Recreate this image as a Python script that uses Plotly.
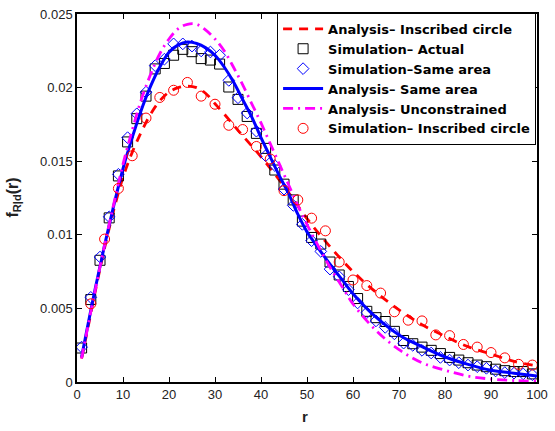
import plotly.graph_objects as go

# ---- Simulation markers ----
sim_x = [1, 3, 5, 7, 9, 11, 13, 15, 17, 19, 21, 23, 25, 27, 29, 31, 33, 35, 37, 39,
         41, 43, 45, 47, 49, 51, 53, 55, 57, 59, 61, 63, 65, 67, 69, 71, 73, 75, 77, 79,
         81, 83, 85, 87, 89, 91, 93, 95, 97, 99]
sim_actual = [0.00231, 0.0056, 0.00827, 0.01115, 0.0140, 0.01631, 0.01789, 0.01942, 0.02127, 0.02164,
              0.0222, 0.0226, 0.02244, 0.02197, 0.02187, 0.0216, 0.02004, 0.0192, 0.01804, 0.01689,
              0.01587, 0.0144, 0.01344, 0.01237, 0.01093, 0.00982, 0.00937, 0.00815, 0.00727, 0.00649,
              0.00567, 0.0048, 0.00437, 0.00411, 0.00344, 0.00282, 0.0026, 0.00237, 0.00215, 0.00193,
              0.00167, 0.00149, 0.00131, 0.00115, 0.00104, 0.00087, 0.00077, 0.00071, 0.00071, 0.00055]
sim_same_area = [0.00237, 0.00575, 0.00849, 0.01122, 0.01411, 0.0166, 0.01822, 0.01969, 0.02149, 0.02193,
                 0.02297, 0.02297, 0.02282, 0.02249, 0.02242, 0.0222, 0.02049, 0.01931, 0.01827, 0.01704,
                 0.01537, 0.01471, 0.0131, 0.0120, 0.01071, 0.0096, 0.00887, 0.00767, 0.00715, 0.00627,
                 0.00537, 0.00471, 0.00415, 0.00371, 0.00327, 0.00264, 0.00249, 0.00215, 0.00197, 0.00167,
                 0.00149, 0.00131, 0.00115, 0.00104, 0.00093, 0.00075, 0.00064, 0.0006, 0.00055, 0.00049]

circ_x = [3, 6, 9, 12, 15, 18, 21, 24, 27, 30, 33, 36, 39, 42, 45, 48, 51, 54, 57, 60,
          63, 66, 69, 72, 75, 78, 81, 84, 87, 90, 93, 96, 99]
sim_inscribed = [0.00531, 0.00971, 0.01315, 0.01537, 0.01793, 0.01933, 0.01982, 0.02035, 0.01942, 0.01887,
                 0.01744, 0.01715, 0.0160, 0.01515, 0.0130, 0.01237, 0.01113, 0.01027, 0.00815, 0.00693,
                 0.00655, 0.00604, 0.00477, 0.0042, 0.00415, 0.0032, 0.00315, 0.00255, 0.00237, 0.002,
                 0.00164, 0.0012, 0.00115]

# ---- Analysis curves ----
ana_insc_x = [1, 2, 4, 6, 8, 10, 12, 14, 16, 18, 20, 22, 24, 26, 28, 30, 32, 35, 40, 45,
              50, 55, 60, 65, 70, 75, 80, 85, 90, 95, 100]
ana_inscribed = [0.0016, 0.0031, 0.0062, 0.0091, 0.0117, 0.0139, 0.0156, 0.0170, 0.0182, 0.0191,
                 0.0197, 0.0200, 0.0201, 0.0200, 0.0196, 0.0189, 0.0182, 0.0171, 0.0153, 0.0133,
                 0.0111, 0.0092, 0.0075, 0.0061, 0.0049, 0.0039, 0.0031, 0.0024, 0.0019, 0.0014, 0.0011]

ana_same_x = [1, 2, 4, 6, 8, 10, 12, 14, 16, 18, 20, 22, 24, 26, 28, 30, 32, 34, 36, 38,
              40, 42, 44, 46, 48, 50, 52, 55, 58, 60, 65, 70, 75, 80, 85, 90, 95, 100]
ana_same = [0.0017, 0.0033, 0.0064, 0.0093, 0.0120, 0.0145, 0.0166, 0.0185, 0.0201, 0.0214,
            0.0224, 0.0229, 0.0231, 0.0230, 0.0227, 0.0222, 0.0214, 0.0204, 0.0192, 0.0180,
            0.0166, 0.0153, 0.0140, 0.0128, 0.0114, 0.0102, 0.0093, 0.0080, 0.0068, 0.0060,
            0.0044, 0.0032, 0.0024, 0.0017, 0.0012, 0.0008, 0.0006, 0.0004]

ana_unc_x = [1, 2, 4, 6, 8, 10, 12, 14, 16, 18, 20, 22, 24, 26, 28, 30, 32, 34, 36, 38,
             40, 42, 44, 46, 48, 50, 52, 55, 58, 60, 65, 70, 75, 80, 85, 90, 95, 100]
ana_unconstrained = [0.0016, 0.0032, 0.0063, 0.0093, 0.0121, 0.0148, 0.0171, 0.0192, 0.0209, 0.0223,
                     0.0233, 0.0240, 0.0243, 0.0243, 0.0239, 0.0233, 0.0225, 0.0214, 0.0202, 0.0189,
                     0.0176, 0.0162, 0.0148, 0.0134, 0.0120, 0.0107, 0.0095, 0.0078, 0.0063, 0.0053,
                     0.0035, 0.0022, 0.0013, 0.0008, 0.0004, 0.0002, 0.0001, 0.00005]

x_ticks = [0, 10, 20, 30, 40, 50, 60, 70, 80, 90, 100]
y_ticks = [0, 0.005, 0.01, 0.015, 0.02, 0.025]
y_ticktext = ["0", "0.005", "0.01", "0.015", "0.02", "0.025"]

FONT = "Liberation Sans, Arial, Helvetica, sans-serif"
LEG_FONT = "DejaVu Sans, Liberation Sans, Arial, sans-serif"

fig = go.Figure()
fig.add_trace(go.Scatter(x=ana_insc_x, y=ana_inscribed, mode="lines", line_shape="spline",
                         name="Analysis– Inscribed circle",
                         line=dict(color="#ff0000", width=2.8, dash="9px,7px")))
fig.add_trace(go.Scatter(x=sim_x, y=sim_actual, mode="markers", name="Simulation– Actual",
                         marker=dict(symbol="square-open", size=10, color="black", line=dict(width=1))))
fig.add_trace(go.Scatter(x=sim_x, y=sim_same_area, mode="markers", name="Simulation–Same area",
                         marker=dict(symbol="diamond-open", size=9, color="#0000ff", line=dict(width=1))))
fig.add_trace(go.Scatter(x=ana_same_x, y=ana_same, mode="lines", line_shape="spline",
                         name="Analysis– Same area",
                         line=dict(color="#0000ff", width=3)))
fig.add_trace(go.Scatter(x=ana_unc_x, y=ana_unconstrained, mode="lines", line_shape="spline",
                         name="Analysis– Unconstrained",
                         line=dict(color="#ff00ff", width=2.8, dash="10px,5px,2px,5px")))
fig.add_trace(go.Scatter(x=circ_x, y=sim_inscribed, mode="markers", name="Simulation– Inscribed circle",
                         marker=dict(symbol="circle-open", size=10, color="#ff0000", line=dict(width=1))))

axis_common = dict(showline=True, linecolor="black", linewidth=1.5, mirror="ticks",
                   ticks="inside", ticklen=5, tickcolor="black", tickwidth=1,
                   showgrid=False, zeroline=False,
                   tickfont=dict(family=FONT, size=13, color="#222222"))

fig.update_xaxes(range=[0, 100], tickvals=x_ticks, **axis_common)
fig.update_yaxes(range=[0, 0.025], tickvals=y_ticks, ticktext=y_ticktext, **axis_common)

fig.update_layout(
    width=555, height=431,
    margin=dict(l=77, r=13, t=7, b=49),
    paper_bgcolor="white", plot_bgcolor="white",
    showlegend=True,
    legend=dict(x=0.998, y=1.003, xanchor="right", yanchor="top",
                bgcolor="white", bordercolor="black", borderwidth=1,
                font=dict(family=LEG_FONT, size=13, color="black", weight="bold"),
                itemwidth=40, tracegroupgap=0),
    annotations=[
        dict(text="<b>f<sub>R|d</sub>(r)</b>", xref="paper", yref="paper",
             x=-0.14, y=0.5, xanchor="center", yanchor="middle", textangle=-90,
             showarrow=False, font=dict(family=FONT, size=16, color="#222222")),
        dict(text="<b>r</b>", xref="paper", yref="paper",
             x=0.495, y=-0.093, xanchor="center", yanchor="middle",
             showarrow=False, font=dict(family=FONT, size=15, color="#222222")),
    ],
)

fig.write_html("out.html")
